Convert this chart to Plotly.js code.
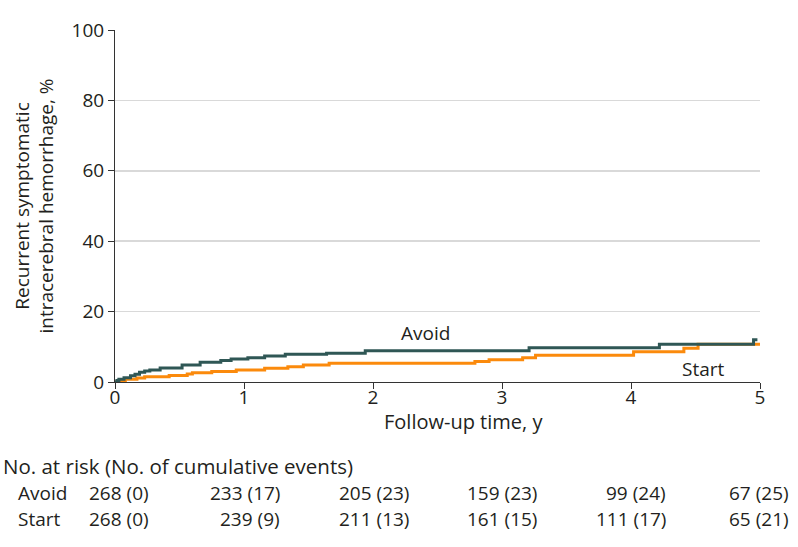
<!DOCTYPE html>
<html>
<head>
<meta charset="utf-8">
<script src="https://cdn.plot.ly/plotly-3.0.1.min.js"></script>
<style>html,body{margin:0;padding:0;background:#fff}#chart{width:798px;height:547px}</style>
</head>
<body>
<div id="chart"></div>
<script>
// Kaplan-Meier style cumulative incidence (years, %)
const avoidTime = [0, 0.015, 0.03, 0.07, 0.12, 0.155, 0.19, 0.23, 0.27, 0.35, 0.52, 0.66, 0.82, 0.90, 1.03, 1.16, 1.32, 1.64, 1.94, 3.21, 4.22, 4.95, 4.98];
const avoidPct  = [0, 0.4, 0.8, 1.2, 1.8, 2.2, 2.8, 3.1, 3.4, 4.0, 4.8, 5.6, 6.1, 6.5, 6.9, 7.4, 7.9, 8.2, 8.9, 9.7, 10.7, 12.0, 12.0];
const startTime = [0, 0.04, 0.08, 0.17, 0.23, 0.42, 0.56, 0.60, 0.75, 0.94, 1.16, 1.34, 1.46, 1.66, 2.79, 2.90, 3.16, 3.26, 4.02, 4.41, 4.52, 5.0];
const startPct  = [0, 0.37, 0.75, 1.12, 1.5, 1.87, 2.25, 2.62, 3.0, 3.4, 3.9, 4.3, 4.8, 5.3, 5.8, 6.3, 6.9, 7.6, 8.6, 9.6, 10.7, 10.7];

// Number-at-risk table
const riskYears    = [0, 1, 2, 3, 4, 5];
const avoidAtRisk  = [268, 233, 205, 159, 99, 67];
const avoidEvents  = [0, 17, 23, 23, 24, 25];
const startAtRisk  = [268, 239, 211, 161, 111, 65];
const startEvents  = [0, 9, 13, 15, 17, 21];

const xTicks = [0, 1, 2, 3, 4, 5];
const yTicks = [0, 20, 40, 60, 80, 100];

const FONT = 'Open Sans, Noto Sans, sans-serif';
const TXT = '#231f20';
const GREEN = '#2f5755';
const ORANGE = '#fb8a0c';

// plot-area geometry in pixels (layout only)
const L = 115, R = 38, T = 30, B = 165, W = 798, H = 547;
const pw = W - L - R, ph = H - T - B;
const px2paperX = p => (p - L) / pw;
const py2paperY = p => (H - B - p) / ph;
const colRight = [151, 282, 411, 539, 668, 791];

const traces = [
  {x: startTime, y: startPct, mode: 'lines', line: {shape: 'hv', color: ORANGE, width: 3}, hoverinfo: 'skip', name: 'Start'},
  {x: avoidTime, y: avoidPct, mode: 'lines', line: {shape: 'hv', color: GREEN, width: 3}, hoverinfo: 'skip', name: 'Avoid'}
];

const ann = [];
ann.push({x: 2.41, y: 13.9, xref: 'x', yref: 'y', text: 'Avoid', showarrow: false, font: {size: 19, color: TXT, family: FONT}});
ann.push({x: 4.56, y: 3.7, xref: 'x', yref: 'y', text: 'Start', showarrow: false, font: {size: 19, color: TXT, family: FONT}});
ann.push({x: px2paperX(463), y: py2paperY(421), xref: 'paper', yref: 'paper', xanchor: 'center', yanchor: 'middle',
  text: 'Follow-up time, y', showarrow: false, font: {size: 20, color: TXT, family: FONT}});
ann.push({x: px2paperX(1), y: py2paperY(466), xref: 'paper', yref: 'paper', xanchor: 'left', yanchor: 'middle',
  text: 'No. at risk (No. of cumulative events)', showarrow: false, font: {size: 20.5, color: TXT, family: FONT}});
const rows = [['Avoid', avoidAtRisk, avoidEvents, 493], ['Start', startAtRisk, startEvents, 519]];
rows.forEach(([lab, risk, ev, py]) => {
  ann.push({x: px2paperX(16), y: py2paperY(py), xref: 'paper', yref: 'paper', xanchor: 'left', yanchor: 'middle',
    text: lab, showarrow: false, font: {size: 19, color: TXT, family: FONT}});
  riskYears.forEach((yr, i) => {
    ann.push({x: px2paperX(colRight[i]), y: py2paperY(py), xref: 'paper', yref: 'paper', xanchor: 'right', yanchor: 'middle',
      text: risk[i] + ' (' + ev[i] + ')', showarrow: false, font: {size: 19, color: TXT, family: FONT}});
  });
});

const layout = {
  width: W, height: H,
  margin: {l: L, r: R, t: T, b: B, pad: 0},
  paper_bgcolor: '#fff', plot_bgcolor: '#fff',
  showlegend: false,
  font: {family: FONT, color: TXT, size: 19},
  xaxis: {
    range: [0, 5], tickvals: xTicks, ticktext: xTicks.map(String),
    showgrid: false, zeroline: false, showline: true, linecolor: '#333', linewidth: 1,
    ticks: 'outside', ticklen: 6, tickcolor: '#333', tickfont: {size: 19, color: TXT, family: FONT},
    ticklabelstandoff: -8,
    fixedrange: true, automargin: false
  },
  yaxis: {
    range: [0, 100], tickvals: yTicks, ticktext: yTicks.map(String),
    showgrid: true, gridcolor: '#d9d9d9', gridwidth: 1.5, zeroline: false,
    showline: true, linecolor: '#333', linewidth: 1,
    ticks: 'outside', ticklen: 6, tickcolor: '#333', tickfont: {size: 19, color: TXT, family: FONT},
    title: {text: 'Recurrent symptomatic<br>intracerebral hemorrhage, %', font: {size: 19, color: TXT, family: FONT}, standoff: 12},
    fixedrange: true, automargin: false
  },
  annotations: ann
};

Plotly.newPlot('chart', traces, layout, {staticPlot: true, displayModeBar: false});
</script>
</body>
</html>
